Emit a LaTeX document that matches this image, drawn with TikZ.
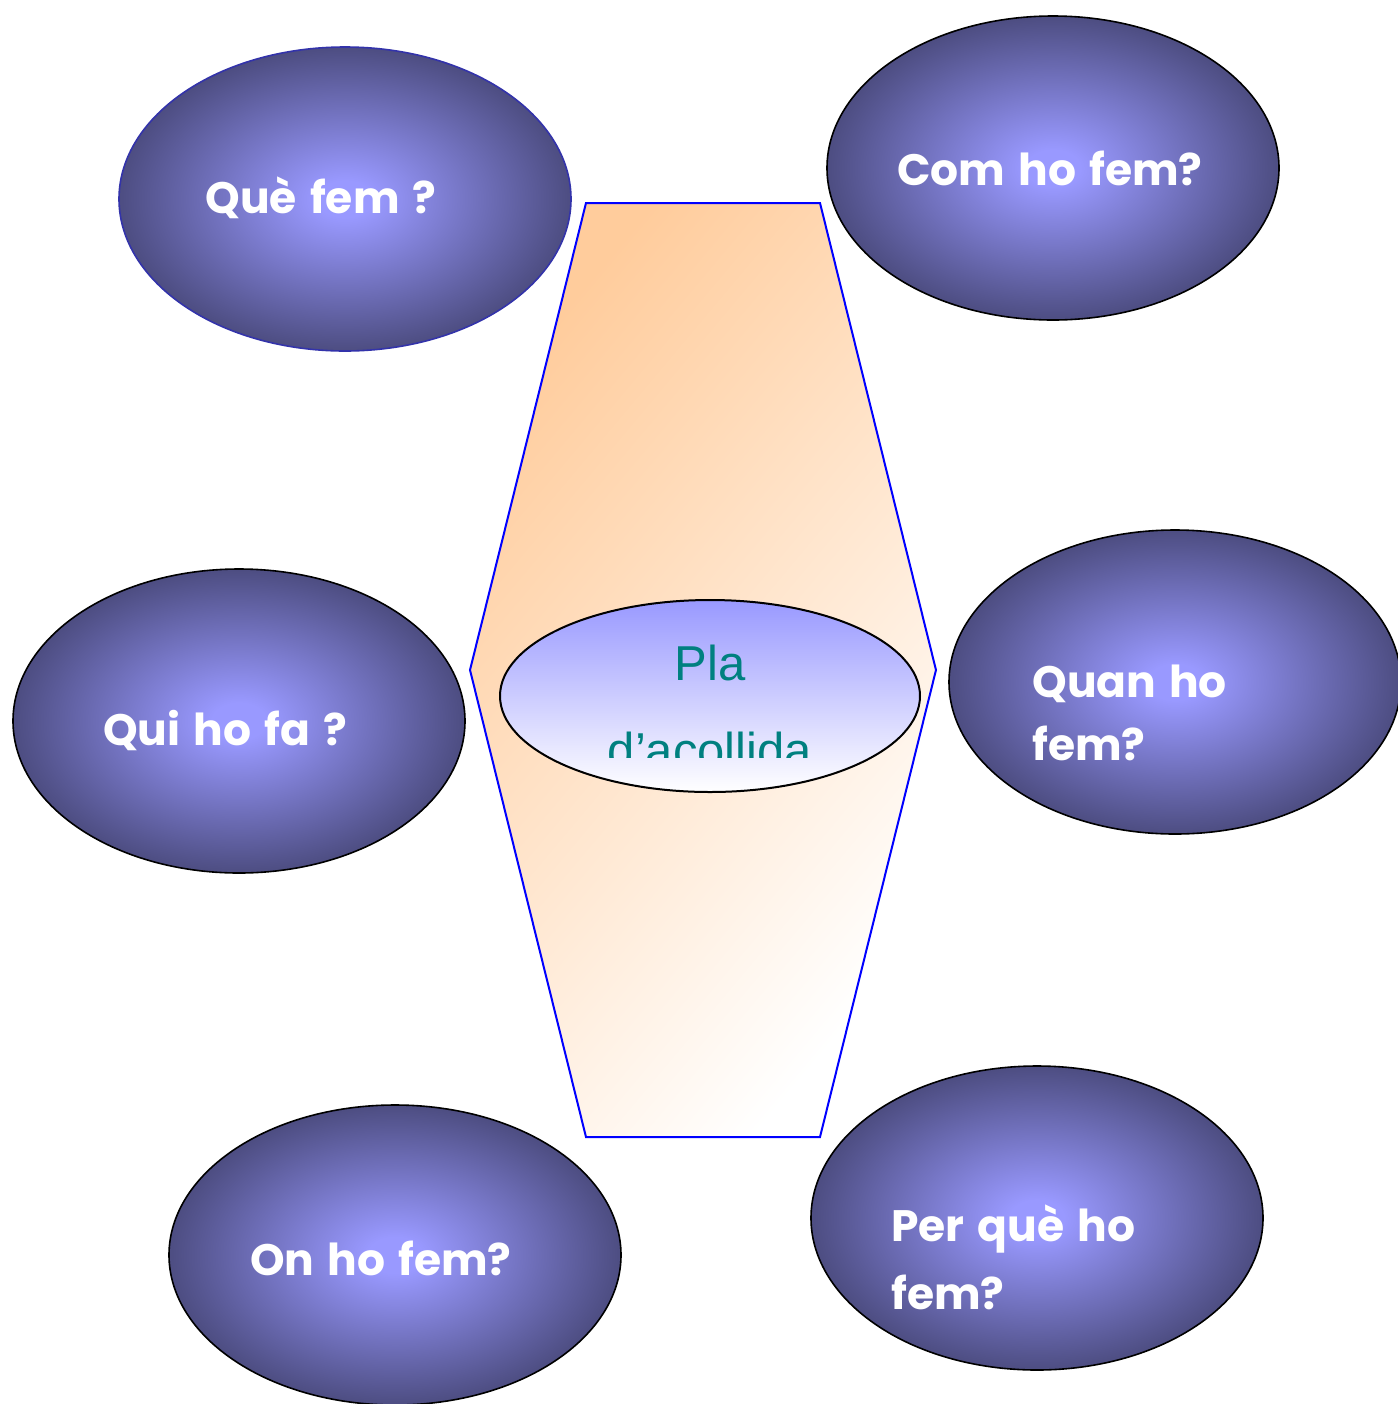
\documentclass[tikz,border=0pt]{standalone}
\usepackage{fontspec}
\usetikzlibrary{shapes.geometric}
\newfontfamily\bubblefont{Poppins}[WordSpace=1.4]
\newfontfamily\plafont{Liberation Sans}
\definecolor{ballin}{RGB}{153,153,255}
\definecolor{ballout}{RGB}{70,70,118}
\definecolor{peach}{RGB}{255,204,156}
\definecolor{tealtext}{RGB}{0,128,128}
\definecolor{quebord}{RGB}{51,51,170}
\definecolor{hexblue}{RGB}{0,0,255}
\definecolor{centtop}{RGB}{153,153,255}
\pgfdeclareradialshading{ballshade}{\pgfpoint{0bp}{0bp}}{color(0bp)=(ballin); color(3bp)=(ballin); color(27bp)=(ballout); color(36bp)=(ballout); color(72bp)=(ballout)}
\begin{document}
\begin{tikzpicture}[x=0.5pt,y=-0.5pt,
  ball/.style={ellipse, draw=black, line width=0.8pt, shading=ballshade,
    minimum width=226pt, minimum height=152pt, inner sep=0pt, outer sep=0pt},
  balltext/.style={text=white, font=\bubblefont\bfseries\fontsize{22}{30}\selectfont, inner sep=0pt},
  platext/.style={text=tealtext, font=\plafont\fontsize{24.5}{30}\selectfont, inner sep=0pt}
]
\useasboundingbox (0,0) rectangle (1398,1404);
% hexagon
\shade[top color=peach, bottom color=white, shading angle=50, draw=hexblue, line width=1pt]
  (586,203) -- (820,203) -- (936,670) -- (820,1137) -- (586,1137) -- (470,670) -- cycle;
% central ellipse
\node[ellipse, draw=black, line width=1pt, top color=centtop, bottom color=white,
  minimum width=210pt, minimum height=96pt, inner sep=0pt, outer sep=0pt] (pla) at (710,696) {};
\node[platext, anchor=base] (pla1) at (710,680) {Pla};
\begin{scope}
  \clip (500,600) rectangle (920,757);
  \node[platext, anchor=base] (pla2) at (710,767) {d’acollida};
\end{scope}
% balloons
\node[ball, draw=quebord] (que) at (345,199) {};
\node[ball] (com) at (1053,168) {};
\node[ball] (qui) at (239,721) {};
\node[ball] (quan) at (1175,682) {};
\node[ball, minimum height=150pt] (on) at (395,1255) {};
\node[ball] (perque) at (1037,1218) {};
% texts
\node[balltext, anchor=base] (tque) at (321,213) {Què fem ?};
\node[balltext, anchor=base] (tcom) at (1050,185) {Com ho fem?};
\node[balltext, anchor=base] (tqui) at (225,745) {Qui ho fa ?};
\node[balltext, anchor=base west] (tquan1) at (1032,697) {Quan ho};
\node[balltext, anchor=base west] (tquan2) at (1032,760) {fem?};
\node[balltext, anchor=base] (ton) at (381,1275) {On ho fem?};
\node[balltext, anchor=base west] (tper1) at (891,1241) {Per què ho};
\node[balltext, anchor=base west] (tper2) at (891,1309) {fem?};
\end{tikzpicture}
\end{document}
